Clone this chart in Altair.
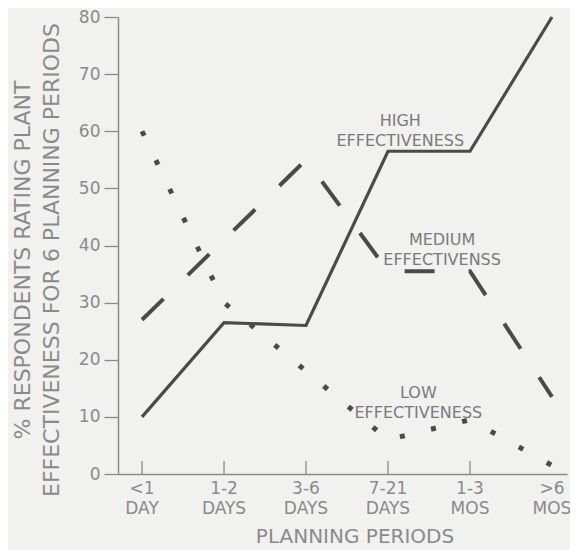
import altair as alt
import pandas as pd

categories = ["<1 DAY", "1-2 DAYS", "3-6 DAYS", "7-21 DAYS", "1-3 MOS", ">6 MOS"]
high = [10, 26.5, 26, 56.5, 56.5, 80]
medium = [27, 41, 55, 35.5, 35.5, 13.5]
low = [60, 30, 18, 6, 9.5, 1.5]
y_ticks = [0, 10, 20, 30, 40, 50, 60, 70, 80]

annotations = [
    {"text": "HIGH\nEFFECTIVENESS", "idx": 3.15, "val": 61.8},
    {"text": "MEDIUM\nEFFECTIVENSS", "idx": 3.66, "val": 41.0},
    {"text": "LOW\nEFFECTIVENESS", "idx": 3.37, "val": 14.2},
]
y_title = ["% RESPONDENTS RATING PLANT", "EFFECTIVENESS FOR 6 PLANNING PERIODS"]
x_title = "PLANNING PERIODS"

W, H = 449, 457
INK = "#4a4a4a"
TXT = "#8a8a8a"
FONT = "DejaVu Sans"

rows = []
for name, vals in [("high", high), ("medium", medium), ("low", low)]:
    for i, v in enumerate(vals):
        rows.append({"series": name, "idx": i, "val": v, "cat": categories[i]})
df = pd.DataFrame(rows)
cat_df = pd.DataFrame({"idx": list(range(len(categories))), "cat": categories})
tick_df = cat_df.iloc[:5]
ann_df = pd.DataFrame(annotations)

xs = alt.Scale(domain=[-0.293, 5.183], nice=False, zero=False)
ys = alt.Scale(domain=[0, 80], nice=False)

xenc = alt.X("idx:Q", scale=xs, axis=alt.Axis(labels=False, ticks=False, grid=False, title=None,
                                              domainColor="#8a8a8a", domainWidth=1.5))
yenc = alt.Y("val:Q", scale=ys, axis=alt.Axis(values=y_ticks, grid=False, title=None,
                                              tickSize=14, tickColor="#8a8a8a", tickWidth=1.3,
                                              domainColor="#8a8a8a", domainWidth=1.5,
                                              labelFont=FONT, labelFontSize=17, labelColor=TXT,
                                              labelPadding=4))

base = alt.Chart(df)
hi_line = base.transform_filter("datum.series == 'high'").mark_line(
    color=INK, strokeWidth=3.2).encode(x=xenc, y=yenc, order="idx:Q")
med_line = base.transform_filter("datum.series == 'medium'").mark_line(
    color=INK, strokeWidth=4, strokeDash=[30, 34]).encode(x="idx:Q", y="val:Q", order="idx:Q")
low_line = base.transform_filter("datum.series == 'low'").mark_line(
    color=INK, strokeWidth=5, strokeDash=[5, 27]).encode(x="idx:Q", y="val:Q", order="idx:Q")

ticks = alt.Chart(tick_df).mark_rule(color="#8a8a8a", strokeWidth=1.3).encode(
    x="idx:Q", y=alt.value(H), y2=alt.value(H - 13))

xlabels = alt.Chart(cat_df).mark_text(
    font=FONT, fontSize=17, color=TXT, lineBreak=" ", lineHeight=20, baseline="top").encode(
    x="idx:Q", y=alt.value(H + 7), text="cat:N")

xtitle = alt.Chart(pd.DataFrame({"t": [x_title]})).mark_text(
    font=FONT, fontSize=20, color=TXT, baseline="middle").encode(
    x=alt.value(237), y=alt.value(H + 63), text="t:N")

ytitle = alt.Chart(pd.DataFrame({"t": y_title, "px": [-95, -66]})).mark_text(
    font=FONT, fontSize=22, color=TXT, angle=270, align="center", baseline="middle").encode(
    x=alt.X("px:Q", scale=None), y=alt.value(243), text="t:N")

ann = alt.Chart(ann_df).mark_text(
    font=FONT, fontSize=16, color="#7a7a7a", lineBreak="\n", lineHeight=20, baseline="middle").encode(
    x="idx:Q", y="val:Q", text="text:N")

chart = alt.layer(hi_line, med_line, low_line, ticks, ann, xlabels, xtitle, ytitle).properties(
    width=W, height=H,
    autosize=alt.AutoSizeParams(type="none"),
    padding={"left": 110, "top": 9, "right": 3, "bottom": 76},
    background="#f1f1ef",
).configure_view(stroke=None)

chart.save("out.html", embed_options={"renderer": "svg", "actions": False})
